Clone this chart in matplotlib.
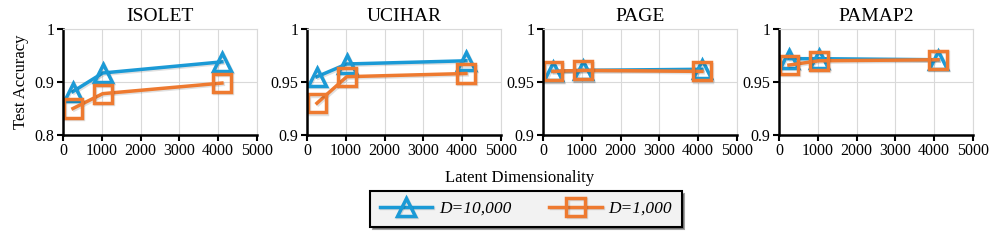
import matplotlib
matplotlib.use("Agg")
import matplotlib.pyplot as plt
import matplotlib.patheffects as pe
from matplotlib.ticker import FixedLocator

plt.rcParams['font.family'] = ['Liberation Serif', 'DejaVu Serif']

datasets = ["ISOLET", "UCIHAR", "PAGE", "PAMAP2"]
dims = [256, 1024, 4096]
acc_d10000 = [
    [0.882, 0.917, 0.938],
    [0.955, 0.967, 0.970],
    [0.960, 0.961, 0.962],
    [0.972, 0.972, 0.971],
]
acc_d1000 = [
    [0.850, 0.878, 0.898],
    [0.930, 0.955, 0.958],
    [0.960, 0.961, 0.960],
    [0.966, 0.970, 0.971],
]
ylims = [(0.8, 1.0), (0.9, 1.0), (0.9, 1.0), (0.9, 1.0)]
yticks = [[0.8, 0.9, 1.0], [0.9, 0.95, 1.0], [0.9, 0.95, 1.0], [0.9, 0.95, 1.0]]
yticklabels = [["0.8", "0.9", "1"], ["0.9", "0.95", "1"], ["0.9", "0.95", "1"], ["0.9", "0.95", "1"]]

blue = "#1B9AD6"
orange = "#EE7A30"

W, H = 997, 242
fig = plt.figure(figsize=(W / 100, H / 100), dpi=100)
lefts = [63, 307, 543, 779]
ax_w, top, bot = 194, 29, 135

shadow = [pe.SimpleLineShadow(offset=(1, -1), alpha=0.12, shadow_color="k"), pe.Normal()]

handles = []
for i, name in enumerate(datasets):
    ax = fig.add_axes([lefts[i] / W, 1 - bot / H, ax_w / W, (bot - top) / H])
    l1, = ax.plot(dims, acc_d10000[i], color=blue, lw=2.5, marker="^", ms=13,
                  mfc="none", mec=blue, mew=2.5, path_effects=shadow, label="D=10,000")
    l2, = ax.plot(dims, acc_d1000[i], color=orange, lw=2.5, marker="s", ms=13,
                  mfc="none", mec=orange, mew=2.5, path_effects=shadow, label="D=1,000")
    if i == 0:
        handles = [l1, l2]
    ax.set_xlim(0, 5000)
    ax.set_ylim(*ylims[i])
    ax.xaxis.set_major_locator(FixedLocator([0, 1000, 2000, 3000, 4000, 5000]))
    ax.set_yticks(yticks[i])
    ax.set_yticklabels(yticklabels[i])
    ax.grid(True, color="#D9D9D9", lw=0.8)
    ax.set_axisbelow(True)
    for s in ["top", "right"]:
        ax.spines[s].set_color("#D9D9D9")
        ax.spines[s].set_linewidth(0.8)
    for s in ["left", "bottom"]:
        ax.spines[s].set_color("black")
        ax.spines[s].set_linewidth(1.8)
    ax.tick_params(axis="both", labelsize=11.5, length=4, width=1.5, direction="out", pad=2)
    ax.set_title(name, fontsize=14, pad=6)
    if i == 0:
        ax.set_ylabel("Test Accuracy", fontsize=12, labelpad=4)

fig.text(520 / W, 1 - 178 / H, "Latent Dimensionality", ha="center", va="center", fontsize=12)

leg = fig.legend(handles, ["D=10,000", "D=1,000"], loc="center",
                 bbox_to_anchor=(526 / W, 1 - 209 / H), ncol=2, frameon=True,
                 fancybox=False, shadow=True, edgecolor="black", facecolor="#F2F2F2",
                 prop={"style": "italic", "size": 12.5}, handlelength=3.0,
                 columnspacing=2.2, borderpad=0.55, handletextpad=0.4)
leg.get_frame().set_linewidth(1.5)

fig.savefig("out.png", dpi=100)
